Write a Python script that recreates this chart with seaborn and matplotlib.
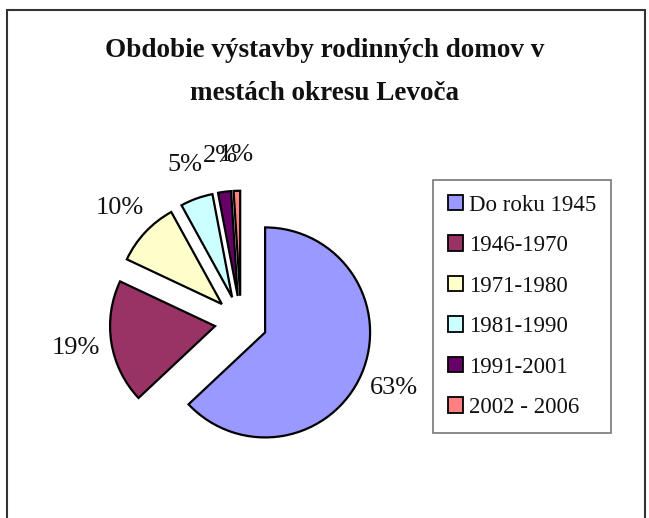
import matplotlib
matplotlib.use("Agg")
import matplotlib.pyplot as plt
from matplotlib.patches import Patch, Rectangle
import seaborn as sns

categories = ["Do roku 1945", "1946-1970", "1971-1980", "1981-1990", "1991-2001", "2002 - 2006"]
values = [63, 19, 10, 5, 2, 1]
colors = ["#9999FF", "#993366", "#FFFFCC", "#CCFFFF", "#660066", "#FF8080"]
title = "Obdobie výstavby rodinných domov v\nmestách okresu Levoča"

sns.set_theme(style="white")
plt.rcParams["font.family"] = ["Liberation Serif", "DejaVu Serif"]

W, H = 649, 518
fig = plt.figure(figsize=(W / 100, H / 100), dpi=100)
fig.patch.set_facecolor("white")

# outer frame
fig.patches.append(Rectangle((7 / W, -0.05), (645 - 7) / W, (H - 10) / H + 0.05,
                             transform=fig.transFigure, fill=False,
                             edgecolor="#333333", linewidth=1.5))

# pie axes: center (241, 322) px, radius 105 px
r = 105
cx, cy = 241, 322
L = 1.8
ax = fig.add_axes([(cx - L * r) / W, (H - cy - L * r) / H, 2 * L * r / W, 2 * L * r / H])

wedges, texts, autotexts = ax.pie(
    values, colors=colors, startangle=90, counterclock=False,
    explode=[0.25] * len(values), radius=1.0,
    autopct=lambda p: f"{p:.0f}%", pctdistance=1.34,
    wedgeprops=dict(edgecolor="black", linewidth=1.6),
    textprops=dict(fontsize=19, color="#111111"),
    frame=False,
)
ax.set_xlim(-L, L)
ax.set_ylim(-L, L)
ax.set_aspect("auto")
ax.axis("off")
for t in autotexts:
    t.set_clip_on(False)

fig.text(325 / W, 1 - 72 / H, title, ha="center", va="center", fontsize=19.5,
         fontweight="bold", linespacing=1.9, color="#111111")

handles = [Patch(facecolor=c, edgecolor="black", linewidth=1.3) for c in colors]
leg = fig.legend(handles, categories, loc="upper left",
                 bbox_to_anchor=(433 / W, 1 - 180 / H), bbox_transform=fig.transFigure,
                 fontsize=16.5, frameon=True, fancybox=False, edgecolor="#555555",
                 handlelength=0.65, handleheight=0.65, handletextpad=0.3,
                 labelspacing=0.85, borderpad=0.64, borderaxespad=0)
leg.get_frame().set_linewidth(1.2)
for t in leg.get_texts():
    t.set_color("#111111")

fig.savefig("out.png", dpi=100, facecolor="white")
